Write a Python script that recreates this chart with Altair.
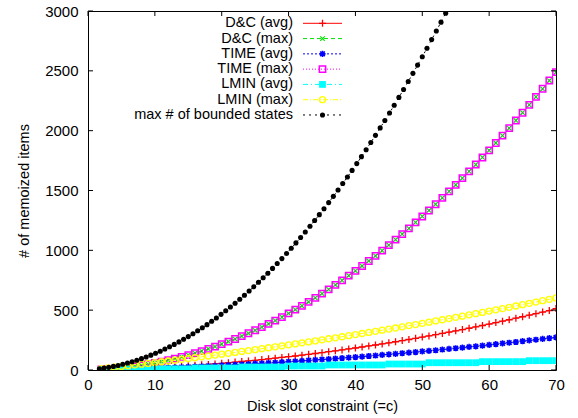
import altair as alt
import pandas as pd

# ---- data ----
c_vals = list(range(2, 71))

dc_avg = [2, 4, 5, 7, 9, 11, 14, 16, 19, 22, 25, 28, 32, 35, 39, 43, 47, 51, 56, 61,
          66, 71, 76, 81, 87, 93, 99, 105, 111, 117, 124, 131, 138, 145, 153, 160, 168, 176, 184, 192,
          201, 209, 218, 227, 236, 246, 255, 265, 275, 285, 295, 306, 316, 327, 338, 349, 361, 372, 384, 396,
          408, 420, 433, 445, 458, 471, 484, 497, 513]

dc_max = [4, 7, 12, 17, 23, 31, 39, 48, 59, 70, 82, 95, 110, 125, 141, 158, 177, 196, 216, 237,
          259, 283, 307, 332, 358, 385, 413, 442, 473, 504, 536, 569, 603, 638, 674, 711, 749, 788, 828, 869,
          911, 954, 998, 1043, 1089, 1136, 1184, 1233, 1283, 1333, 1385, 1438, 1492, 1547, 1603, 1660, 1717, 1776, 1836, 1897,
          1959, 2021, 2085, 2150, 2216, 2282, 2350, 2419, 2489]

time_avg = [2, 4, 5, 7, 8, 10, 11, 13, 15, 17, 19, 21, 23, 26, 28, 30, 33, 35, 38, 41,
            44, 46, 49, 53, 56, 59, 62, 66, 69, 73, 76, 80, 84, 88, 91, 95, 100, 104, 108, 112,
            117, 121, 126, 131, 135, 140, 145, 150, 155, 160, 165, 171, 176, 182, 187, 193, 198, 204, 210, 216,
            222, 228, 234, 241, 247, 253, 260, 266, 273]

time_max = [4, 7, 12, 17, 23, 31, 39, 48, 59, 70, 82, 95, 110, 125, 141, 158, 177, 196, 216, 237,
            259, 283, 307, 332, 358, 385, 413, 442, 473, 504, 536, 569, 603, 638, 674, 711, 749, 788, 828, 869,
            911, 954, 998, 1043, 1089, 1136, 1184, 1233, 1283, 1333, 1385, 1438, 1492, 1547, 1603, 1660, 1717, 1776, 1836, 1897,
            1959, 2021, 2085, 2150, 2216, 2282, 2350, 2419, 2489]

lmin_avg = [4, 4, 4, 4, 4, 4, 4,
            10, 10, 10, 10, 10, 10, 10,
            17, 17, 17, 17, 17, 17, 17,
            25, 25, 25, 25, 25, 25, 25,
            33, 33, 33, 33, 33, 33,
            42, 42, 42, 42, 42, 42, 42, 42, 42,
            50, 50, 50, 50, 50, 50,
            61, 61, 61, 61, 61, 61, 61, 61,
            70, 70, 70, 70, 70, 70, 70,
            78, 78, 78, 78, 78]

lmin_max = [12, 18, 24, 30, 36, 43, 49, 55, 62, 69, 75, 82, 89, 96, 103, 110, 117, 125, 132, 139,
            147, 155, 162, 170, 178, 186, 194, 202, 210, 218, 227, 235, 243, 252, 261, 269, 278, 287, 296, 305,
            314, 323, 333, 342, 351, 361, 371, 380, 390, 400, 410, 420, 430, 440, 450, 461, 471, 481, 492, 503,
            513, 524, 535, 546, 557, 568, 579, 591, 602]

bound_x = [1.7, 2.4, 3.1, 3.8, 4.5, 5.2, 5.9, 6.6, 7.3, 8.0, 8.7, 9.4, 10.1, 10.8, 11.5, 12.2, 12.9, 13.6,
           14.3, 15.0, 15.7, 16.4, 17.1, 17.8, 18.5, 19.2, 19.9, 20.6, 21.3, 22.0, 22.7, 23.4, 24.1, 24.8,
           25.5, 26.2, 26.9, 27.6, 28.3, 29.0, 29.7, 30.4, 31.1, 31.8, 32.5, 33.2, 33.9, 34.6, 35.3, 36.0,
           36.7, 37.4, 38.1, 38.8, 39.5, 40.2, 40.9, 41.6, 42.3, 43.0, 43.7, 44.4, 45.1, 45.8, 46.5, 47.2,
           47.9, 48.6, 49.3, 50.0, 50.7, 51.4, 52.1, 52.8, 53.5]
bound_vals = [10, 16, 22, 30, 38, 48, 58, 69, 82, 95, 109, 124, 140, 157, 175, 194, 214, 235,
              257, 279, 303, 328, 353, 379, 407, 435, 465, 495, 526, 558, 591, 625, 660, 696,
              733, 771, 809, 849, 890, 931, 974, 1017, 1062, 1107, 1153, 1201, 1249, 1298, 1348, 1399,
              1451, 1504, 1558, 1613, 1668, 1725, 1783, 1841, 1901, 1961, 2023, 2085, 2148, 2213, 2278, 2344,
              2411, 2479, 2548, 2618, 2689, 2761, 2833, 2907, 2982]

names = ["D&C (avg)", "D&C (max)", "TIME (avg)", "TIME (max)", "LMIN (avg)", "LMIN (max)",
         "max # of bounded states"]
x_ticks = [0, 10, 20, 30, 40, 50, 60, 70]
y_ticks = [0, 500, 1000, 1500, 2000, 2500, 3000]

# ---- styles ----
PLUS = "M-1,0L1,0M0,-1L0,1"
CROSS = "M-1,-1L1,1M-1,1L1,-1"
STAR = "M-1,0L1,0M0,-1L0,1M-0.75,-0.75L0.75,0.75M-0.75,0.75L0.75,-0.75"
styles = [
    dict(color="#ff0000", dash=[1, 0], shape=PLUS, filled=False, size=49, sw=1.3),
    dict(color="#00e000", dash=[4, 3], shape=CROSS, filled=False, size=20, sw=1.1),
    dict(color="#0000ff", dash=[2, 2], shape=STAR, filled=False, size=38, sw=1.6),
    dict(color="#ff00ff", dash=[1, 2], shape="square", filled=False, size=40, sw=1.5),
    dict(color="#00ffff", dash=[5, 3, 1, 3], shape="square", filled=True, size=46, sw=0),
    dict(color="#ffff00", dash=[5, 2, 1, 2], shape="circle", filled=False, size=36, sw=1.3),
    dict(color="#000000", dash=[2, 4], shape="circle", filled=True, size=26, sw=0),
]

frames = []
series_vals = [dc_avg, dc_max, time_avg, time_max, lmin_avg, lmin_max]
for n, v in zip(names[:6], series_vals):
    frames.append(pd.DataFrame({"c": c_vals, "value": v, "series": n}))
frames.append(pd.DataFrame({"c": bound_x, "value": bound_vals, "series": names[6]}))
df = pd.concat(frames, ignore_index=True)

W, H = 468, 359
FONT = "Liberation Sans"

x_enc = alt.X("c:Q", scale=alt.Scale(domain=[0, 70], nice=False, zero=False),
              axis=alt.Axis(values=x_ticks, title="Disk slot constraint (=c)", grid=False,
                            ticks=False, domain=False, labelPadding=7, titlePadding=7,
                            labelFlush=False, format="d"))
y_enc = alt.Y("value:Q", scale=alt.Scale(domain=[0, 3000], nice=False),
              axis=alt.Axis(values=y_ticks, title="# of memoized items", grid=False,
                            ticks=False, domain=False, labelPadding=10, titlePadding=13,
                            labelFlush=False, format="d"))

layers = []
for n, st in zip(names, styles):
    base = alt.Chart(df).transform_filter(alt.datum.series == n)
    layers.append(base.mark_line(color=st["color"], strokeDash=st["dash"], strokeWidth=1, clip=True)
                  .encode(x=x_enc, y=y_enc))
    pt_kwargs = dict(shape=st["shape"], size=st["size"], clip=True, opacity=1)
    if st["filled"]:
        pt = base.mark_point(filled=True, color=st["color"], **pt_kwargs)
    else:
        pt = base.mark_point(filled=False, color=st["color"], strokeWidth=st["sw"], **pt_kwargs)
    layers.append(pt.encode(x=x_enc, y=y_enc))

# inward ticks (mirrored on all four sides)
xt = pd.DataFrame({"c": x_ticks})
yt = pd.DataFrame({"value": y_ticks})
layers.append(alt.Chart(xt).mark_rule(color="black", strokeWidth=1)
              .encode(x=x_enc, y=alt.value(H), y2=alt.value(H - 5)))
layers.append(alt.Chart(xt).mark_rule(color="black", strokeWidth=1)
              .encode(x=x_enc, y=alt.value(0), y2=alt.value(5)))
layers.append(alt.Chart(yt).mark_rule(color="black", strokeWidth=1)
              .encode(y=y_enc, x=alt.value(0), x2=alt.value(5)))
layers.append(alt.Chart(yt).mark_rule(color="black", strokeWidth=1)
              .encode(y=y_enc, x=alt.value(W), x2=alt.value(W - 5)))

# key (gnuplot style: label right-aligned, sample to the right)
leg_df = pd.DataFrame({"label": names})
for i, (n, st) in enumerate(zip(names, styles)):
    ry = 12.3 + 15.28 * i
    one = alt.Chart(leg_df).transform_filter(alt.datum.label == n)
    layers.append(one.mark_text(align="right", baseline="middle", font=FONT, fontSize=14.5, color="black")
                  .encode(text="label:N", x=alt.value(205), y=alt.value(ry)))
    layers.append(one.mark_rule(color=st["color"], strokeDash=st["dash"], strokeWidth=1)
                  .encode(x=alt.value(215), x2=alt.value(254), y=alt.value(ry)))
    pk = dict(shape=st["shape"], size=st["size"], opacity=1)
    if st["filled"]:
        lp = one.mark_point(filled=True, color=st["color"], **pk)
    else:
        lp = one.mark_point(filled=False, color=st["color"], strokeWidth=st["sw"], **pk)
    layers.append(lp.encode(x=alt.value(234.5), y=alt.value(ry)))

chart = alt.layer(*layers).properties(
    width=W, height=H,
    autosize=alt.AutoSizeParams(type="none"),
    padding={"left": 88, "top": 11, "right": 22, "bottom": 48},
).configure_view(stroke="black", strokeWidth=1).configure_axis(
    labelFont=FONT, titleFont=FONT, labelFontSize=15, titleFontSize=14.5,
    labelColor="black", titleColor="black", titleFontWeight="normal"
)

chart.save("out.html", embed_options={"renderer": "svg", "actions": False})
